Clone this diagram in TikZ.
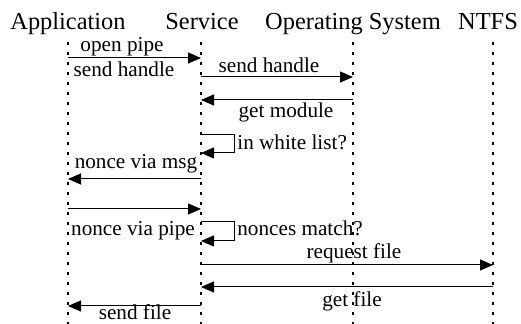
\documentclass[tikz,border=0pt]{standalone}
\usepackage{fontspec}
\setmainfont{Liberation Serif}
\usepackage{tikz}
\usetikzlibrary{arrows.meta}

\begin{document}
\begin{tikzpicture}[x=0.5pt, y=-0.5pt]
\tikzstyle{actor}=[anchor=base, inner sep=0pt, font=\fontsize{12.2}{14}\selectfont]
\tikzstyle{lifeline}=[line width=0.6pt, dash pattern=on 1.5pt off 3.5pt]
\tikzstyle{msg}=[line width=0.5pt, -{Triangle[length=6.5pt, width=5.5pt]}]
\tikzstyle{msglabel}=[anchor=base, inner sep=0pt, font=\fontsize{10.6}{12}\selectfont]
\useasboundingbox (0,0) rectangle (521,324);

% actors
\node[actor] (app) at (68,30) {Application};
\node[actor] (svc) at (202,30) {Service};
\node[actor] (os) at (353,30) {Operating System};
\node[actor] (ntfs) at (488,30) {NTFS};

% lifelines
\coordinate (app-top) at (68,42);  \coordinate (app-bot) at (68,324);
\coordinate (svc-top) at (201,42); \coordinate (svc-bot) at (201,324);
\coordinate (os-top) at (353,42);  \coordinate (os-bot) at (353,324);
\coordinate (ntfs-top) at (493,42); \coordinate (ntfs-bot) at (493,324);
\draw[lifeline] (app-top) -- (app-bot);
\draw[lifeline] (svc-top) -- (svc-bot);
\draw[lifeline] (os-top) -- (os-bot);
\draw[lifeline] (ntfs-top) -- (ntfs-bot);

% message ends
\coordinate (a1) at (68,58);   \coordinate (s1) at (201,58);
\coordinate (s2) at (201,77);  \coordinate (o2) at (353,77);
\coordinate (o3) at (353,100); \coordinate (s3) at (201,100);
\coordinate (s4) at (201,135); \coordinate (s4b) at (201,153);
\coordinate (s5) at (201,179); \coordinate (a5) at (68,179);
\coordinate (a6) at (68,209);  \coordinate (s6) at (201,209);
\coordinate (s7) at (201,222); \coordinate (s7b) at (201,241);
\coordinate (s8) at (201,265); \coordinate (n8) at (493,265);
\coordinate (n9) at (493,287); \coordinate (s9) at (201,287);
\coordinate (s10) at (201,306); \coordinate (a10) at (68,306);

% messages
\draw[msg] (a1) -- (s1);
\draw[msg] (s2) -- (o2);
\draw[msg] (o3) -- (s3);
\draw[msg] (s4) -- ++(33,0) |- (s4b);
\draw[msg] (s5) -- (a5);
\draw[msg] (a6) -- (s6);
\draw[msg] (s7) -- ++(33,0) |- (s7b);
\draw[msg] (s8) -- (n8);
\draw[msg] (n9) -- (s9);
\draw[msg] (s10) -- (a10);

% labels
\node[msglabel] (l-open) at (122,52) {open pipe};
\node[msglabel] (l-hand1) at (124,77) {send handle};
\node[msglabel] (l-hand2) at (269,73) {send handle};
\node[msglabel] (l-mod) at (286,118) {get module};
\node[msglabel, anchor=base west] (l-white) at (237,150) {in white list?};
\node[msglabel] (l-msg) at (136,169) {nonce via msg};
\node[msglabel] (l-pipe) at (133,236) {nonce via pipe};
\node[msglabel, anchor=base west] (l-match) at (237,236) {nonces match?};
\node[msglabel] (l-req) at (354,259) {request file};
\node[msglabel] (l-get) at (352,307) {get file};
\node[msglabel] (l-send) at (135,320) {send file};

\end{tikzpicture}
\end{document}
